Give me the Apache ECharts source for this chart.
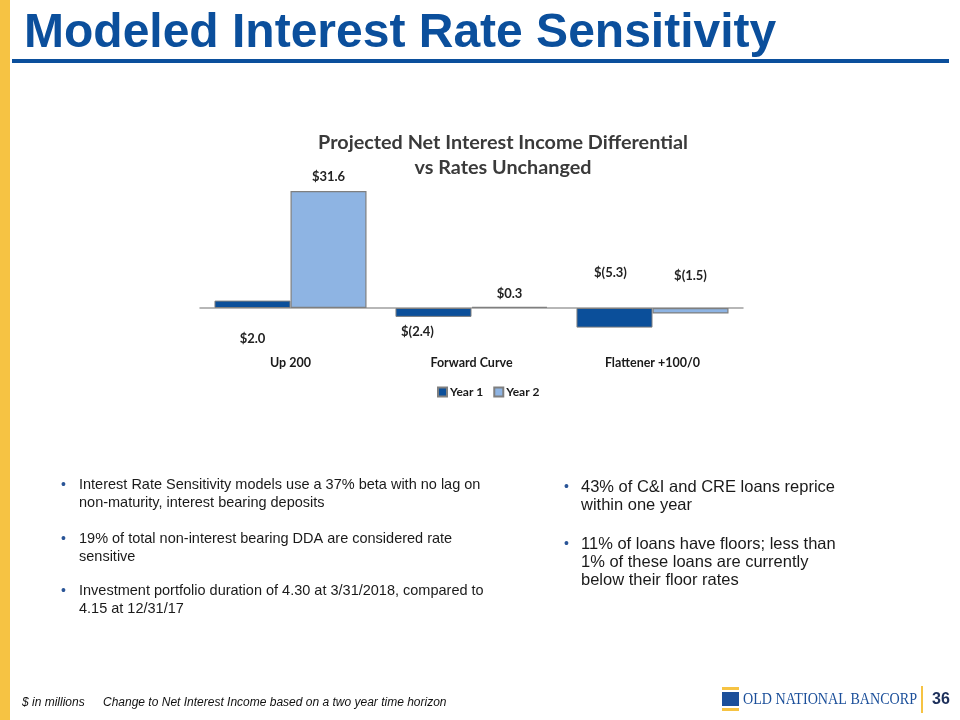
<!DOCTYPE html>
<html>
<head>
<meta charset="utf-8">
<script src="https://cdn.jsdelivr.net/npm/echarts@6/dist/echarts.min.js"></script>
<style>
html,body{margin:0;padding:0;background:#fff;}
#chart{width:960px;height:720px;}
</style>
</head>
<body>
<div id="chart"></div>
<script>
// ---- data ----
var categories = ['Up 200', 'Forward Curve', 'Flattener +100/0'];
var seriesNames = ['Year 1', 'Year 2'];
var year1 = [2.0, -2.4, -5.3];
var year2 = [31.6, 0.3, -1.5];
var slideTitle = 'Modeled Interest Rate Sensitivity';
var chartTitle = 'Projected Net Interest Income Differential\nvs Rates Unchanged';
var leftBullets = [
  'Interest Rate Sensitivity models use a 37% beta with no lag on\nnon-maturity, interest bearing deposits',
  '19% of total non-interest bearing DDA are considered rate\nsensitive',
  'Investment portfolio duration of 4.30 at 3/31/2018, compared to\n4.15 at 12/31/17'
];
var rightBullets = [
  '43% of C&I and CRE loans reprice\nwithin one year',
  '11% of loans have floors; less than\n1% of these loans are currently\nbelow their floor rates'
];
var footLeft = '$ in millions';
var footNote = 'Change to Net Interest Income based on a two year time horizon';
var companyName = 'OLD NATIONAL BANCORP';
var pageNumber = '36';

// ---- styles (label offsets relative to bar centre) ----
var y1LabelOffsets = [[0, 35], [-16, 19], [-4, -45]];
var y2LabelOffsets = [[0, -72.5], [0, -14], [0, -35]];

function fmt(v) {
  return v < 0 ? '$(' + Math.abs(v).toFixed(1) + ')' : '$' + v.toFixed(1);
}
function buildData(vals, offs) {
  return vals.map(function (v, i) {
    return { value: v, label: { offset: offs[i] } };
  });
}

var CAL = 'Lato, "Noto Sans", sans-serif';
var ARIAL = '"Liberation Sans", Arial, sans-serif';
var BLUE = '#0b4f9c';
var GOLD = '#f6c343';

var graphics = [
  { type: 'rect', shape: { x: 0, y: 0, width: 10, height: 720 }, style: { fill: GOLD } },
  { type: 'text', x: 24, y: 34, style: { text: slideTitle, font: 'bold 48px ' + ARIAL, fill: BLUE, verticalAlign: 'middle' } },
  { type: 'rect', shape: { x: 12, y: 59, width: 937, height: 4 }, style: { fill: BLUE } },
  { type: 'text', x: 22, y: 703, style: { text: footLeft, font: 'italic 12px ' + ARIAL, fill: '#111', verticalAlign: 'middle' } },
  { type: 'text', x: 103, y: 703, style: { text: footNote, font: 'italic 12px ' + ARIAL, fill: '#111', verticalAlign: 'middle' } },
  // logo
  { type: 'rect', shape: { x: 722, y: 687, width: 17, height: 3 }, style: { fill: GOLD } },
  { type: 'rect', shape: { x: 722, y: 692, width: 17, height: 14 }, style: { fill: '#1b4f9a' } },
  { type: 'rect', shape: { x: 722, y: 708, width: 17, height: 3 }, style: { fill: GOLD } },
  { type: 'text', x: 743, y: 700, scaleX: 0.83, style: { text: companyName, font: '17px "Liberation Serif", "DejaVu Serif", serif', fill: '#1b4f9a', verticalAlign: 'middle' } },
  { type: 'rect', shape: { x: 921, y: 686, width: 2, height: 27 }, style: { fill: GOLD } },
  { type: 'text', x: 932, y: 700, style: { text: pageNumber, font: 'bold 16px ' + ARIAL, fill: '#1c2f5a', verticalAlign: 'middle' } }
];

var leftTops = [476, 530, 582];
leftBullets.forEach(function (t, i) {
  graphics.push({ type: 'text', x: 61, y: leftTops[i], style: { text: '•', font: '14px ' + ARIAL, fill: '#2a5597', lineHeight: 18, verticalAlign: 'top' } });
  graphics.push({ type: 'text', x: 79, y: leftTops[i], style: { text: t, font: '14.5px ' + ARIAL, fill: '#1a1a1a', lineHeight: 18, verticalAlign: 'top' } });
});
var rightTops = [478, 535];
rightBullets.forEach(function (t, i) {
  graphics.push({ type: 'text', x: 564, y: rightTops[i], style: { text: '•', font: '14px ' + ARIAL, fill: '#2a5597', lineHeight: 18, verticalAlign: 'top' } });
  graphics.push({ type: 'text', x: 581, y: rightTops[i], style: { text: t, font: '16.5px ' + ARIAL, fill: '#1a1a1a', lineHeight: 18, verticalAlign: 'top' } });
});

var chart = echarts.init(document.getElementById('chart'), null, { renderer: 'canvas' });
chart.setOption({
  animation: false,
  backgroundColor: '#fff',
  title: {
    text: chartTitle,
    left: 498,
    top: 125,
    textAlign: 'center',
    textStyle: { fontFamily: CAL, fontWeight: 'bold', fontSize: 19.8, lineHeight: 25, color: '#3a3a3a' }
  },
  legend: {
    data: seriesNames,
    left: 437,
    top: 386,
    padding: 0,
    icon: 'rect',
    itemWidth: 9,
    itemHeight: 9,
    itemGap: 10,
    textStyle: { fontFamily: CAL, fontWeight: 'bold', fontSize: 12, color: '#1a1a1a', padding: [0, 0, 0, -2] }
  },
  grid: { left: 200, right: 217, top: 178.5, height: 166.5, containLabel: false },
  xAxis: {
    type: 'category',
    data: categories,
    axisLine: { onZero: true, lineStyle: { color: '#a0a0a0', width: 1.5 } },
    axisTick: { show: false },
    axisLabel: { margin: 11, fontFamily: CAL, fontWeight: 'bold', fontSize: 12.5, color: '#1a1a1a' },
    splitLine: { show: false }
  },
  yAxis: { type: 'value', min: -10, max: 35, show: false, splitLine: { show: false } },
  series: [
    {
      name: seriesNames[0], type: 'bar', barGap: '0%', barCategoryGap: '16%',
      data: buildData(year1, y1LabelOffsets),
      itemStyle: { color: '#0b4f9a', borderColor: '#7f7f7f', borderWidth: 1 },
      label: { show: true, position: 'inside', formatter: function (p) { return fmt(p.value); }, fontFamily: CAL, fontWeight: 'bold', fontSize: 13, color: '#222' },
      z: 3
    },
    {
      name: seriesNames[1], type: 'bar', barGap: '0%', barCategoryGap: '16%',
      data: buildData(year2, y2LabelOffsets),
      itemStyle: { color: '#8eb4e3', borderColor: '#7f7f7f', borderWidth: 1.2 },
      label: { show: true, position: 'inside', formatter: function (p) { return fmt(p.value); }, fontFamily: CAL, fontWeight: 'bold', fontSize: 13, color: '#222' },
      z: 3
    }
  ],
  graphic: graphics
});
</script>
</body>
</html>
